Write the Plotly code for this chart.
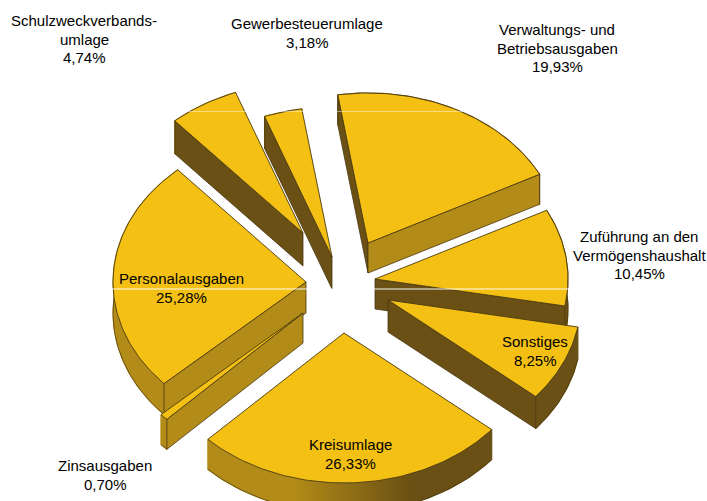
import math
import plotly.graph_objects as go

# Data
names = ["Verwaltungs- und<br>Betriebsausgaben", "Zuführung an den<br>Vermögenshaushalt", "Sonstiges", "Kreisumlage",
         "Zinsausgaben", "Personalausgaben", "Schulzweckverbands-<br>umlage", "Gewerbesteuerumlage"]
value_labels = ["19,93%", "10,45%", "8,25%", "26,33%", "0,70%", "25,28%", "4,74%", "3,18%"]
# drawn shares of the circle (the Schulzweckverbandsumlage wedge is drawn wider than its label)
drawn_shares = [19.93, 10.45, 8.25, 26.33, 0.70, 25.28, 5.88, 3.18]

# Layout of the exploded pie (in page pixels)
apex_x = [368, 375, 388, 344, 303, 306, 303, 332]
apex_y = [243, 279, 300, 333, 313, 282, 233, 257]
depths = [30, 30, 32, 30, 30, 31, 33, 32]
label_x = [557, 639, 535, 350, 105, 181, 84, 307]
label_y = [48, 255, 351, 454, 475, 288, 39, 33]
LINE_STEP = 18.3
draw_order = [7, 6, 0, 1, 5, 4, 2, 3]
RX, RY, START = 193, 150, -9

TOP, GOLD, BROWN, EDGE = "#F4C014", (178, 139, 24), (106, 80, 20), "#4A3910"


def hexa(c):
    return "rgb(%d,%d,%d)" % c


def mix(t):
    return tuple(round(BROWN[i] + (GOLD[i] - BROWN[i]) * t) for i in range(3))


def wall_tone(theta):
    return mix(max(0, min(1, (theta - 160) / 35)))


def pt(i, theta):
    r = math.radians(theta)
    return apex_x[i] + RX * math.sin(r), apex_y[i] - RY * math.cos(r)


fig = go.Figure()


def poly(xs, ys, fill, line=None, width=1):
    fig.add_trace(go.Scatter(x=xs + xs[:1], y=ys + ys[:1], mode="lines", fill="toself", fillcolor=fill,
                             line=dict(color=line or fill, width=width), hoverinfo="skip", showlegend=False))


edges = [START]
for s in drawn_shares:
    edges.append(edges[-1] + s * 3.6)

for i in draw_order:
    a, b, d = edges[i], edges[i + 1], depths[i]
    n = max(2, int(b - a))
    thetas = [a + (b - a) * k / n for k in range(n + 1)]
    arc = [pt(i, t) for t in thetas]
    ax, ay = apex_x[i], apex_y[i]
    # outer wall: runs of equal shade become one polygon
    k = 0
    while k < n:
        tone = wall_tone((thetas[k] + thetas[k + 1]) / 2)
        j = k + 1
        while j < n and wall_tone((thetas[j] + thetas[j + 1]) / 2) == tone:
            j += 1
        run = arc[k:j + 1]
        poly([p[0] for p in run] + [p[0] for p in reversed(run)],
             [p[1] for p in run] + [p[1] + d for p in reversed(run)], hexa(tone), width=1.2)
        k = j
    fig.add_trace(go.Scatter(x=[p[0] for p in arc], y=[p[1] + d for p in arc], mode="lines",
                             line=dict(color=EDGE, width=0.7), hoverinfo="skip", showlegend=False))
    # cut faces that look towards the viewer
    s_ang, e_ang = a % 360, b % 360
    if 180 < s_ang < 360:
        x, y = arc[0]
        tone = GOLD if s_ang < 260 else BROWN
        poly([ax, x, x, ax], [ay, y, y + d, ay + d], hexa(tone), EDGE, 0.8)
    if 0 < e_ang < 180:
        x, y = arc[-1]
        tone = GOLD if e_ang < 90 else BROWN
        poly([ax, x, x, ax], [ay, y, y + d, ay + d], hexa(tone), EDGE, 0.8)
    # top surface
    poly([ax] + [p[0] for p in arc], [ay] + [p[1] for p in arc], TOP, EDGE, 0.9)

for n_, v, x, y in zip(names, value_labels, label_x, label_y):
    lines = n_.split("<br>") + [v]
    for k, line in enumerate(lines):
        fig.add_annotation(x=x, y=y + (k - (len(lines) - 1) / 2) * LINE_STEP, text=line, showarrow=False,
                           xanchor="center", yanchor="middle", align="center",
                           font=dict(family="Liberation Sans, Arial", size=15, color="#000000"))

fig.add_shape(type="line", x0=0, x1=707, y0=289, y1=289, line=dict(color="rgba(255,255,255,0.95)", width=1))
fig.add_shape(type="line", x0=0, x1=707, y0=111.5, y1=111.5, line=dict(color="rgba(255,255,255,0.45)", width=1))

fig.update_layout(width=707, height=501, margin=dict(l=0, r=0, t=0, b=0), autosize=False,
                  paper_bgcolor="white", plot_bgcolor="white", showlegend=False,
                  xaxis=dict(range=[0, 707], visible=False, fixedrange=True),
                  yaxis=dict(range=[501, 0], visible=False, fixedrange=True))
fig.write_html("out.html", config=dict(displayModeBar=False),
               post_script="document.body.style.margin='0';document.body.style.overflow='hidden';")
